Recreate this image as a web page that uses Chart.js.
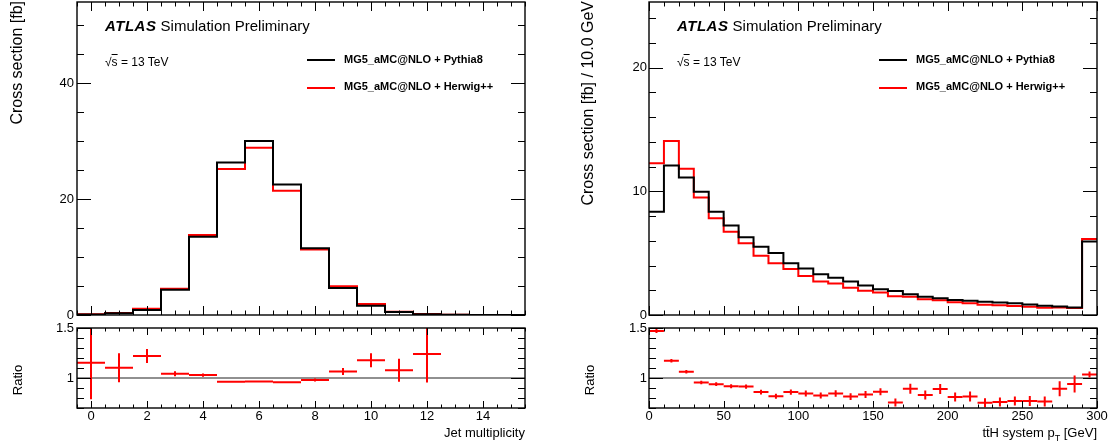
<!DOCTYPE html>
<html>
<head>
<meta charset="utf-8">
<script src="https://cdn.jsdelivr.net/npm/chart.js"></script>
<style>
  body { margin: 0; background: #fff; }
  #wrap { position: relative; width: 1112px; height: 443px; overflow: hidden;
          font-family: 'Liberation Sans', Arial, Helvetica, sans-serif; color: #000; }
  canvas { position: absolute; }
  .txt { position: absolute; white-space: nowrap; }
  .vt { position: absolute; white-space: nowrap; writing-mode: vertical-rl; transform: rotate(180deg); }
  .atlas { font-size: 15px; line-height: 18px; }
  .atlas i { font-weight: bold; letter-spacing: 0.5px; }
  .sqrt { font-size: 12px; line-height: 14px; }
  .leg { font-size: 11px; font-weight: bold; line-height: 13px; }
  .legline { position: absolute; height: 2px; width: 28px; }
  .ytitle { font-size: 16px; line-height: 18px; }
  .rtitle { font-size: 13px; line-height: 15px; transform: translateY(-50%) rotate(180deg); }
  .xtitle { font-size: 13px; line-height: 16px; }
  .xtitle sub { font-size: 9px; vertical-align: -4px; line-height: 0; }
</style>
</head>
<body>
<div id="wrap">
  <canvas id="jetMain" width="540" height="332" style="left:0;top:0"></canvas>
  <canvas id="jetRatio" width="540" height="123" style="left:0;top:320px"></canvas>
  <canvas id="ptMain" width="552" height="332" style="left:560px;top:0"></canvas>
  <canvas id="ptRatio" width="552" height="123" style="left:560px;top:320px"></canvas>

  <!-- left panel labels -->
  <div class="txt atlas" style="left:105px;top:17px"><i>ATLAS</i> Simulation Preliminary</div>
  <div class="txt sqrt" style="left:105px;top:55px">&radic;<span style="text-decoration:overline">s</span> = 13 TeV</div>
  <div class="legline" style="left:307px;top:59px;background:#000"></div>
  <div class="txt leg" style="left:344px;top:53px">MG5_aMC@NLO + Pythia8</div>
  <div class="legline" style="left:307px;top:87px;background:#ff0000"></div>
  <div class="txt leg" style="left:344px;top:80px">MG5_aMC@NLO + Herwig++</div>
  <div class="vt ytitle" style="left:8px;top:1px">Cross section [fb]</div>
  <div class="vt rtitle" style="left:10px;top:380px">Ratio</div>
  <div class="txt xtitle" style="right:587px;top:425px">Jet multiplicity</div>

  <!-- right panel labels -->
  <div class="txt atlas" style="left:677px;top:17px"><i>ATLAS</i> Simulation Preliminary</div>
  <div class="txt sqrt" style="left:677px;top:55px">&radic;<span style="text-decoration:overline">s</span> = 13 TeV</div>
  <div class="legline" style="left:879px;top:59px;background:#000"></div>
  <div class="txt leg" style="left:916px;top:53px">MG5_aMC@NLO + Pythia8</div>
  <div class="legline" style="left:879px;top:87px;background:#ff0000"></div>
  <div class="txt leg" style="left:916px;top:80px">MG5_aMC@NLO + Herwig++</div>
  <div class="vt ytitle" style="left:579px;top:1px">Cross section [fb] / 10.0 GeV</div>
  <div class="vt rtitle" style="left:582px;top:380px">Ratio</div>
  <div class="txt xtitle" style="right:15px;top:425px">tt&#772;H system p<sub>T</sub> [GeV]</div>
</div>

<script>
  // jet multiplicity (bin centres) and cross sections [fb]
  const jetMultiplicity = [0, 1, 2, 3, 4, 5, 6, 7, 8, 9, 10, 11, 12, 13, 14, 15];
  const pythiaJet = [0.10, 0.30, 0.88, 4.35, 13.5, 26.3, 30.0, 22.5, 11.5, 4.65, 1.60, 0.50, 0.15, 0.03, 0.01, 0.0];
  const herwigJet = [0.12, 0.33, 1.08, 4.55, 13.8, 25.2, 28.85, 21.45, 11.3, 4.95, 1.90, 0.54, 0.19, 0.03, 0.01, 0.0];
  // Herwig / Pythia ratio, bins 0..12
  const ratioJet = [1.152, 1.103, 1.219, 1.042, 1.029, 0.962, 0.965, 0.958, 0.980, 1.065, 1.177, 1.077, 1.239];
  const ratioJetErr = [0.36, 0.14, 0.065, 0.02, 0.012, 0.005, 0.005, 0.005, 0.01, 0.03, 0.065, 0.11, 0.28];
  const jetTicks = [0, 2, 4, 6, 8, 10, 12, 14];

  // ttH system pT, lower bin edges [GeV], 10 GeV bins
  const ptLow = [0, 10, 20, 30, 40, 50, 60, 70, 80, 90, 100, 110, 120, 130, 140,
                 150, 160, 170, 180, 190, 200, 210, 220, 230, 240, 250, 260, 270, 280, 290];
  const pythiaPt = [8.34, 12.09, 11.12, 9.96, 8.34, 7.23, 6.29, 5.51, 5.02, 4.18, 3.75, 3.29, 3.02, 2.70, 2.38,
                    2.08, 1.94, 1.67, 1.48, 1.35, 1.22, 1.15, 1.08, 1.02, 0.94, 0.85, 0.75, 0.68, 0.60, 5.94];
  const herwigPt = [12.26, 14.07, 11.82, 9.50, 7.83, 6.73, 5.80, 4.78, 4.18, 3.72, 3.16, 2.70, 2.54, 2.21, 1.97,
                    1.81, 1.51, 1.48, 1.27, 1.19, 1.03, 0.95, 0.82, 0.78, 0.73, 0.66, 0.58, 0.61, 0.57, 6.15];
  const ratioPt = [1.47, 1.172, 1.062, 0.955, 0.938, 0.917, 0.914, 0.859, 0.817, 0.859, 0.845, 0.824, 0.845, 0.814, 0.834,
                   0.862, 0.755, 0.893, 0.831, 0.890, 0.810, 0.814, 0.752, 0.759, 0.769, 0.769, 0.766, 0.893, 0.941, 1.034];
  const ratioPtErr = [0.015, 0.012, 0.012, 0.012, 0.014, 0.015, 0.016, 0.018, 0.02, 0.022, 0.024, 0.025, 0.027, 0.028, 0.03,
                      0.03, 0.035, 0.045, 0.04, 0.045, 0.04, 0.045, 0.04, 0.04, 0.04, 0.045, 0.045, 0.07, 0.08, 0.025];
  const ptTicks = [0, 50, 100, 150, 200, 250, 300];

  const jetYTicks = [0, 20, 40];
  const ptYTicks = [0, 10, 20];
  const ratioYTicks = [1, 1.5];

  Chart.defaults.font.family = "'Liberation Sans', Arial, Helvetica, sans-serif";
  Chart.defaults.color = '#000';

  // histogram outline: one point per lower edge plus the closing upper edge
  function histPoints(low, width, values) {
    const pts = values.map((v, i) => ({ x: low[i], y: v }));
    pts.push({ x: low[low.length - 1] + width, y: values[values.length - 1] });
    return pts;
  }
  function crossPoints(centres, half, values, errs) {
    return values.map((v, i) => ({ x: centres[i], y: v, xe: half, ye: errs[i] }));
  }

  function eachTick(min, max, minor, major, fn) {
    const n0 = Math.ceil(min / minor - 1e-6), n1 = Math.floor(max / minor + 1e-6);
    for (let n = n0; n <= n1; n++) {
      const v = n * minor, r = v / major;
      fn(v, Math.abs(r - Math.round(r)) < 1e-6);
    }
  }

  // ROOT look: frame, inward ticks on all four sides, ratio crosses, line at 1
  const rootStyle = {
    id: 'rootStyle',
    beforeDatasetsDraw(chart, args, o) {
      if (o.refLine === undefined) return;
      const { ctx, chartArea: a } = chart;
      const py = chart.scales.y.getPixelForValue(o.refLine);
      ctx.save();
      ctx.strokeStyle = '#222';
      ctx.lineWidth = 1.2;
      ctx.beginPath(); ctx.moveTo(a.left, py); ctx.lineTo(a.right, py); ctx.stroke();
      ctx.restore();
    },
    afterDatasetsDraw(chart, args, o) {
      const { ctx, chartArea: a } = chart;
      const sx = chart.scales.x, sy = chart.scales.y;

      ctx.save();
      ctx.beginPath(); ctx.rect(a.left, a.top, a.right - a.left, a.bottom - a.top); ctx.clip();
      chart.data.datasets.forEach(ds => {
        if (!ds.crossBars) return;
        ctx.strokeStyle = ds.borderColor;
        ctx.lineWidth = 2;
        ds.data.forEach(p => {
          const cx = sx.getPixelForValue(p.x), cy = sy.getPixelForValue(p.y);
          ctx.beginPath();
          ctx.moveTo(sx.getPixelForValue(p.x - p.xe), cy);
          ctx.lineTo(sx.getPixelForValue(p.x + p.xe), cy);
          ctx.moveTo(cx, sy.getPixelForValue(p.y - p.ye) + 0.5);
          ctx.lineTo(cx, sy.getPixelForValue(p.y + p.ye) - 0.5);
          ctx.stroke();
        });
      });
      ctx.restore();

      ctx.save();
      ctx.strokeStyle = '#000';
      ctx.lineWidth = 1;
      ctx.beginPath();
      eachTick(sx.min, sx.max, o.xMinor, o.xMajor, (v, major) => {
        const px = Math.round(sx.getPixelForValue(v)) + 0.5;
        const len = major ? o.xLen[0] : o.xLen[1];
        ctx.moveTo(px, a.bottom); ctx.lineTo(px, a.bottom - len);
        ctx.moveTo(px, a.top); ctx.lineTo(px, a.top + len);
      });
      eachTick(sy.min, sy.max, o.yMinor, o.yMajor, (v, major) => {
        const py = Math.round(sy.getPixelForValue(v)) + 0.5;
        const len = major ? o.yLen[0] : o.yLen[1];
        ctx.moveTo(a.left, py); ctx.lineTo(a.left + len, py);
        ctx.moveTo(a.right, py); ctx.lineTo(a.right - len, py);
      });
      ctx.stroke();
      ctx.lineWidth = 1.4;
      ctx.strokeRect(a.left, a.top, a.right - a.left, a.bottom - a.top);
      ctx.restore();
    }
  };

  const fmt = v => String(Math.round(v * 10) / 10);

  function buildChart(id, o) {
    return new Chart(document.getElementById(id), {
      type: 'line',
      data: { datasets: o.datasets },
      options: {
        responsive: false,
        animation: false,
        devicePixelRatio: 1,
        layout: { padding: o.padding },
        plugins: { legend: { display: false }, tooltip: { enabled: false }, rootStyle: o.frame },
        scales: {
          x: {
            type: 'linear', min: o.x[0], max: o.x[1], display: o.xLabels.length > 0,
            grid: { display: false, drawTicks: false }, border: { display: false },
            ticks: { autoSkip: false, maxRotation: 0, padding: 1, font: { size: 13 }, color: '#000', callback: fmt },
            afterBuildTicks: s => { s.ticks = o.xLabels.map(v => ({ value: v })); },
            afterFit: s => { s.height = o.xHeight; s.paddingLeft = 0; s.paddingRight = 0; }
          },
          y: {
            type: 'linear', min: o.y[0], max: o.y[1],
            grid: { display: false, drawTicks: false }, border: { display: false },
            ticks: { autoSkip: false, padding: o.yPad, font: { size: 13 }, color: '#000', callback: fmt },
            afterBuildTicks: s => { s.ticks = o.yLabels.map(v => ({ value: v })); },
            afterFit: s => { s.width = o.yWidth; s.paddingTop = 0; s.paddingBottom = 0; }
          }
        }
      },
      plugins: [rootStyle]
    });
  }

  const histStyle = { borderWidth: 2, stepped: 'before', pointRadius: 0, fill: false, tension: 0 };
  const jetLow = jetMultiplicity.map(c => c - 0.5);

  buildChart('jetMain', {
    padding: { left: 0, right: 15, top: 2, bottom: 17 },
    x: [-0.5, 15.5], xLabels: [], xHeight: 0,
    y: [0, 54], yLabels: jetYTicks, yWidth: 77, yPad: 3,
    frame: { xMinor: 0.5, xMajor: 2, xLen: [9, 4.5], yMinor: 5, yMajor: 20, yLen: [14, 7] },
    datasets: [
      { ...histStyle, data: histPoints(jetLow, 1, pythiaJet), borderColor: '#000' },
      { ...histStyle, data: histPoints(jetLow, 1, herwigJet), borderColor: '#ff0000' }
    ]
  });

  buildChart('jetRatio', {
    padding: { left: 0, right: 15, top: 8, bottom: 0 },
    x: [-0.5, 15.5], xLabels: jetTicks, xHeight: 35,
    y: [0.7, 1.5], yLabels: ratioYTicks, yWidth: 77, yPad: 3,
    frame: { xMinor: 0.5, xMajor: 2, xLen: [7, 3.5], yMinor: 0.1, yMajor: 0.5, yLen: [14, 7], refLine: 1 },
    datasets: [
      { data: crossPoints(jetMultiplicity, 0.5, ratioJet, ratioJetErr), crossBars: true,
        borderColor: '#ff0000', pointRadius: 0, showLine: false }
    ]
  });

  buildChart('ptMain', {
    padding: { left: 0, right: 15, top: 2, bottom: 17 },
    x: [0, 300], xLabels: [], xHeight: 0,
    y: [0, 25.3], yLabels: ptYTicks, yWidth: 89, yPad: 2,
    frame: { xMinor: 10, xMajor: 50, xLen: [9, 4.5], yMinor: 2, yMajor: 10, yLen: [14, 7] },
    datasets: [
      { ...histStyle, data: histPoints(ptLow, 10, pythiaPt), borderColor: '#000' },
      { ...histStyle, data: histPoints(ptLow, 10, herwigPt), borderColor: '#ff0000' }
    ]
  });

  buildChart('ptRatio', {
    padding: { left: 0, right: 15, top: 8, bottom: 0 },
    x: [0, 300], xLabels: ptTicks, xHeight: 35,
    y: [0.7, 1.5], yLabels: ratioYTicks, yWidth: 89, yPad: 2,
    frame: { xMinor: 10, xMajor: 50, xLen: [7, 3.5], yMinor: 0.1, yMajor: 0.5, yLen: [14, 7], refLine: 1 },
    datasets: [
      { data: crossPoints(ptLow.map(l => l + 5), 5, ratioPt, ratioPtErr), crossBars: true,
        borderColor: '#ff0000', pointRadius: 0, showLine: false }
    ]
  });
</script>
</body>
</html>
